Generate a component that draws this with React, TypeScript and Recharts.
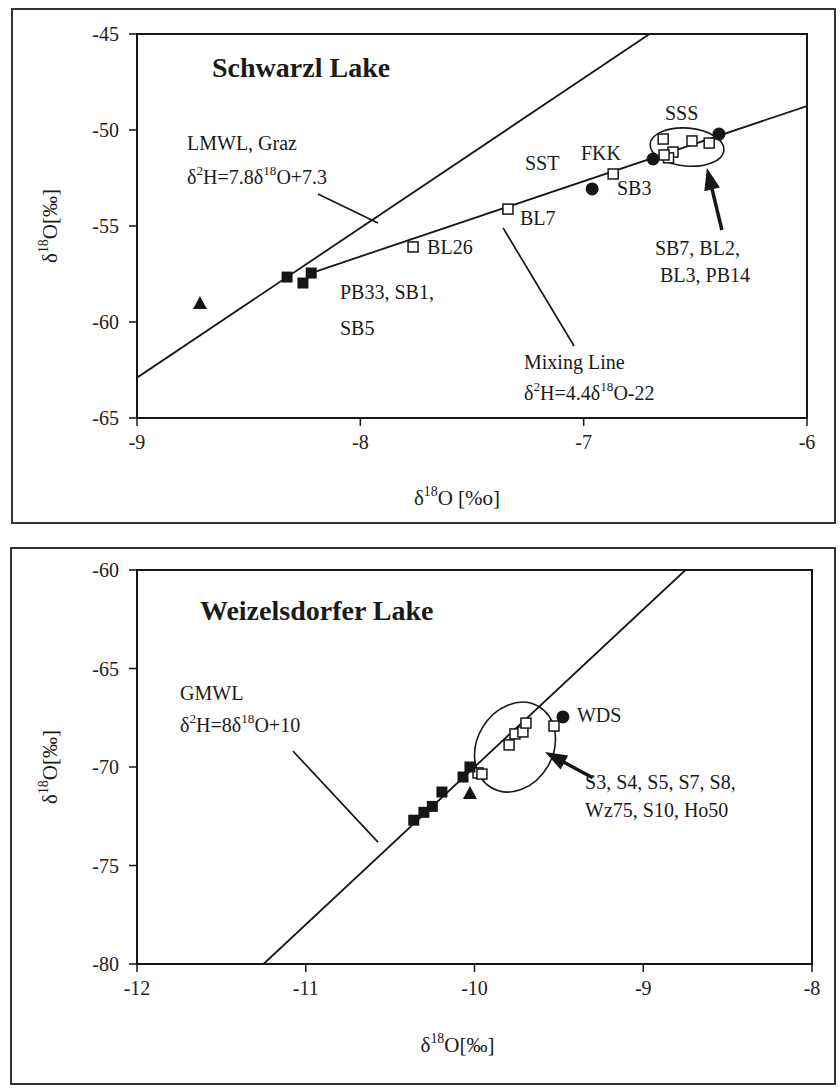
import React from 'react';
import { ScatterChart, Scatter, XAxis, YAxis, ReferenceLine, ReferenceDot, ReferenceArea, Label } from 'recharts';

const FONT = '"Liberation Serif", "Times New Roman", Times, serif';
const INK = '#161616';

// ---------- Schwarzl Lake (top) ----------
const topXTicks = [-9, -8, -7, -6];
const topYTicks = [-65, -60, -55, -50, -45];
const topXMinor = [-8.8, -8.6, -8.4, -8.2, -7.8, -7.6, -7.4, -7.2, -6.8, -6.6, -6.4, -6.2];
const topYMinor = [-64, -63, -62, -61, -59, -58, -57, -56, -54, -53, -52, -51, -49, -48, -47, -46];

const topFilledSquares = [
  { x: -8.328, y: -57.66 },
  { x: -8.257, y: -57.97 },
  { x: -8.22, y: -57.45 },
];
const topTriangles = [{ x: -8.718, y: -59.01 }];
const topCircles = [
  { x: -6.962, y: -53.07 },
  { x: -6.689, y: -51.51 },
  { x: -6.394, y: -50.21 },
];
const topOpenSquares = [
  { x: -7.764, y: -56.09 },
  { x: -7.339, y: -54.12 },
  { x: -6.868, y: -52.29 },
  { x: -6.644, y: -50.47 },
  { x: -6.6, y: -51.15 },
  { x: -6.62, y: -51.45 },
  { x: -6.64, y: -51.3 },
  { x: -6.515, y: -50.57 },
  { x: -6.438, y: -50.68 },
];
const lmwlLine = [
  { x: -9, y: -62.9 },
  { x: -6.705, y: -45 },
];
const mixingLine = [
  { x: -8.22, y: -57.45 },
  { x: -6, y: -48.75 },
];
const topNotes = [
  { x: -8.776, y: -50.68, text: 'LMWL, Graz' },
  { x: -8.776, y: -52.45, text: 'δ^2H=7.8δ^18O+7.3' },
  { x: -7.263, y: -51.72, text: 'SST' },
  { x: -7.012, y: -51.2, text: 'FKK' },
  { x: -6.636, y: -49.11, text: 'SSS' },
  { x: -6.851, y: -53.02, text: 'SB3' },
  { x: -7.285, y: -54.58, text: 'BL7' },
  { x: -7.701, y: -56.09, text: 'BL26' },
  { x: -8.091, y: -58.44, text: 'PB33, SB1,' },
  { x: -8.091, y: -60.31, text: 'SB5' },
  { x: -6.681, y: -56.15, text: 'SB7, BL2,' },
  { x: -6.658, y: -57.55, text: 'BL3, PB14' },
  { x: -7.267, y: -62.08, text: 'Mixing Line' },
  { x: -7.267, y: -63.7, text: 'δ^2H=4.4δ^18O-22' },
];
const topTitle = { x: -8.664, y: -46.72, text: 'Schwarzl Lake' };
const topPointers = [
  [{ x: -8.19, y: -53.33 }, { x: -7.921, y: -54.84 }],
  [{ x: -7.361, y: -55.1 }, { x: -7.043, y: -61.25 }],
];
const topArrow = [{ x: -6.381, y: -55.21 }, { x: -6.448, y: -51.98 }];
const topEllipse = { x: -6.537, y: -50.89 };

// ---------- Weizelsdorfer Lake (bottom) ----------
const botXTicks = [-12, -11, -10, -9, -8];
const botYTicks = [-80, -75, -70, -65, -60];
const botXMinor = [-11.8, -11.6, -11.4, -11.2, -10.8, -10.6, -10.4, -10.2, -9.8, -9.6, -9.4, -9.2, -8.8, -8.6, -8.4, -8.2];
const botYMinor = [-79, -78, -77, -76, -74, -73, -72, -71, -69, -68, -67, -66, -64, -63, -62, -61];

const botFilledSquares = [
  { x: -10.36, y: -72.7 },
  { x: -10.3, y: -72.3 },
  { x: -10.25, y: -72.0 },
  { x: -10.193, y: -71.27 },
  { x: -10.068, y: -70.51 },
  { x: -10.027, y: -70.0 },
];
const botTriangles = [{ x: -10.027, y: -71.32 }];
const botCircles = [{ x: -9.476, y: -67.46 }];
const botOpenSquares = [
  { x: -9.979, y: -70.3 },
  { x: -9.956, y: -70.36 },
  { x: -9.795, y: -68.88 },
  { x: -9.76, y: -68.32 },
  { x: -9.713, y: -68.22 },
  { x: -9.695, y: -67.77 },
  { x: -9.529, y: -67.92 },
];
const gmwlLine = [
  { x: -11.25, y: -80 },
  { x: -8.75, y: -60 },
];
const botNotes = [
  { x: -11.745, y: -66.24, text: 'GMWL' },
  { x: -11.745, y: -67.87, text: 'δ^2H=8δ^18O+10' },
  { x: -9.393, y: -67.36, text: 'WDS' },
  { x: -9.345, y: -70.76, text: 'S3, S4, S5, S7, S8,' },
  { x: -9.345, y: -72.18, text: 'Wz75, S10, Ho50' },
];
const botTitle = { x: -11.627, y: -62.03, text: 'Weizelsdorfer Lake' };
const botPointers = [[{ x: -11.076, y: -69.19 }, { x: -10.572, y: -73.81 }]];
const botArrow = [{ x: -9.3, y: -70.55 }, { x: -9.582, y: -69.24 }];
const botEllipse = { x: -9.76, y: -68.99 };

// ---------- helpers ----------
function rich(s: string, fs: number) {
  const parts = s.split(/\^(\d+)/);
  const out: any[] = [];
  let raised = false;
  parts.forEach((t, i) => {
    if (!t) return;
    if (i % 2 === 1) {
      out.push(
        <tspan key={i} dy={-fs * 0.42} fontSize={fs * 0.66}>
          {t}
        </tspan>
      );
      raised = true;
    } else {
      out.push(
        <tspan key={i} dy={raised ? fs * 0.42 : 0}>
          {t}
        </tspan>
      );
      raised = false;
    }
  });
  return out;
}

const openSquare = (p: any) => (
  <rect x={p.cx - 5} y={p.cy - 5} width={10} height={10} fill="#fff" stroke={INK} strokeWidth={1.5} />
);
const filledSquare = (p: any) => (
  <rect x={p.cx - 5.5} y={p.cy - 5.5} width={11} height={11} fill={INK} />
);
const filledCircle = (p: any) => <circle cx={p.cx} cy={p.cy} r={6.5} fill={INK} />;
const triangle = (p: any) => (
  <polygon points={`${p.cx},${p.cy - 7} ${p.cx - 7},${p.cy + 6} ${p.cx + 7},${p.cy + 6}`} fill={INK} />
);
const noShape = () => <g />;

const noteShape = (text: string, fs: number, bold = false) => (p: any) => (
  <text
    x={p.cx}
    y={p.cy + fs * 0.34}
    fontSize={fs}
    fontFamily={FONT}
    fontWeight={bold ? 'bold' : 'normal'}
    fill="#1a1a1a"
    textAnchor="start"
  >
    {rich(text, fs)}
  </text>
);

const arrowShape = (p: any) => {
  const { x1, y1, x2, y2 } = p;
  const dx = x2 - x1;
  const dy = y2 - y1;
  const L = Math.hypot(dx, dy) || 1;
  const ux = dx / L;
  const uy = dy / L;
  const hl = 22;
  const hw = 8;
  const bx = x2 - ux * hl;
  const by = y2 - uy * hl;
  return (
    <g>
      <line x1={x1} y1={y1} x2={bx + ux * 2} y2={by + uy * 2} stroke={INK} strokeWidth={3.5} />
      <polygon points={`${x2},${y2} ${bx - uy * hw},${by + ux * hw} ${bx + uy * hw},${by - ux * hw}`} fill={INK} />
    </g>
  );
};

const ellipseShape = (rx: number, ry: number, rot: number) => (p: any) => (
  <ellipse
    cx={p.cx}
    cy={p.cy}
    rx={rx}
    ry={ry}
    transform={`rotate(${rot}, ${p.cx}, ${p.cy})`}
    fill="none"
    stroke={INK}
    strokeWidth={1.6}
  />
);

const tickStyle = { fill: '#222', fontSize: 20, fontFamily: FONT };

const xLabel = (text: string, dxShift: number, yOff: number) => (props: any) => {
  const vb = props.viewBox;
  const cx = vb.x + vb.width / 2 + dxShift;
  return (
    <text x={cx} y={vb.y + yOff} textAnchor="middle" fontSize={21} fontFamily={FONT} fill="#1a1a1a">
      {rich(text, 21)}
    </text>
  );
};

const yLabel = (text: string, xPos: number) => (props: any) => {
  const vb = props.viewBox;
  const cy = vb.y + vb.height / 2;
  return (
    <text
      x={xPos}
      y={cy}
      transform={`rotate(-90, ${xPos}, ${cy})`}
      textAnchor="middle"
      fontSize={21}
      fontFamily={FONT}
      fill="#1a1a1a"
    >
      {rich(text, 21)}
    </text>
  );
};

function Panel(props: any) {
  const {
    width, height, margin, xDomain, yDomain, xTicks, yTicks, xMinor, yMinor,
    filledSquares, triangles, circles, openSquares, lines, notes, title,
    pointers, arrow, ellipse, ellipseSpec, xLabelText, yLabelText, xLabelShift, xLabelY, yLabelX,
  } = props;
  return (
    <ScatterChart width={width} height={height} margin={margin}>
      <XAxis
        type="number"
        dataKey="x"
        domain={xDomain}
        ticks={xTicks}
        allowDataOverflow
        height={60}
        tick={tickStyle}
        tickSize={8}
        tickMargin={9}
        axisLine={{ stroke: INK, strokeWidth: 2 }}
        tickLine={{ stroke: INK, strokeWidth: 1.5 }}
      >
        <Label content={xLabel(xLabelText, xLabelShift, xLabelY)} />
      </XAxis>
      <YAxis
        type="number"
        dataKey="y"
        domain={yDomain}
        ticks={yTicks}
        allowDataOverflow
        width={60}
        tick={tickStyle}
        tickSize={8}
        tickMargin={10}
        axisLine={{ stroke: INK, strokeWidth: 2 }}
        tickLine={{ stroke: INK, strokeWidth: 1.5 }}
      >
        <Label content={yLabel(yLabelText, yLabelX)} />
      </YAxis>
      <XAxis
        xAxisId="minor"
        type="number"
        dataKey="x"
        domain={xDomain}
        ticks={xMinor}
        allowDataOverflow
        mirror
        tick={false}
        tickSize={5}
        axisLine={false}
        tickLine={{ stroke: '#444', strokeWidth: 1 }}
      />
      <YAxis
        yAxisId="minor"
        type="number"
        dataKey="y"
        domain={yDomain}
        ticks={yMinor}
        allowDataOverflow
        mirror
        tick={false}
        tickSize={5}
        axisLine={false}
        tickLine={{ stroke: '#444', strokeWidth: 1 }}
      />
      <ReferenceArea
        x1={xDomain[0]}
        x2={xDomain[1]}
        y1={yDomain[0]}
        y2={yDomain[1]}
        fill="none"
        fillOpacity={0}
        stroke={INK}
        strokeWidth={2}
        ifOverflow="visible"
      />
      {lines.map((ln: any, i: number) => (
        <Scatter
          key={'l' + i}
          data={ln}
          line={{ stroke: INK, strokeWidth: 1.8 }}
          shape={noShape}
          isAnimationActive={false}
        />
      ))}
      {pointers.map((seg: any, i: number) => (
        <ReferenceLine key={'p' + i} segment={seg} stroke={INK} strokeWidth={1.7} ifOverflow="visible" />
      ))}
      <ReferenceLine segment={arrow} shape={arrowShape} ifOverflow="visible" />
      <ReferenceDot
        x={ellipse.x}
        y={ellipse.y}
        r={0}
        ifOverflow="visible"
        shape={ellipseShape(ellipseSpec[0], ellipseSpec[1], ellipseSpec[2])}
      />
      <Scatter data={openSquares} shape={openSquare} isAnimationActive={false} />
      <Scatter data={filledSquares} shape={filledSquare} isAnimationActive={false} />
      <Scatter data={triangles} shape={triangle} isAnimationActive={false} />
      <Scatter data={circles} shape={filledCircle} isAnimationActive={false} />
      {notes.map((n: any, i: number) => (
        <ReferenceDot key={'n' + i} x={n.x} y={n.y} r={0} ifOverflow="visible" shape={noteShape(n.text, 20)} />
      ))}
      <ReferenceDot x={title.x} y={title.y} r={0} ifOverflow="visible" shape={noteShape(title.text, 28, true)} />
    </ScatterChart>
  );
}

export default function App() {
  return (
    <div style={{ position: 'absolute', left: 0, top: 0, width: 840, height: 1091, background: '#fff' }}>
      <div
        style={{
          position: 'absolute', left: 11, top: 8, width: 825, height: 516,
          border: '2px solid #333', boxSizing: 'border-box',
        }}
      />
      <div
        style={{
          position: 'absolute', left: 10, top: 547, width: 826, height: 538,
          border: '2px solid #333', boxSizing: 'border-box',
        }}
      />
      <div style={{ position: 'absolute', left: 0, top: 0 }}>
        <Panel
          width={840}
          height={524}
          margin={{ top: 34, right: 33, bottom: 46, left: 77 }}
          xDomain={[-9, -6]}
          yDomain={[-65, -45]}
          xTicks={topXTicks}
          yTicks={topYTicks}
          xMinor={topXMinor}
          yMinor={topYMinor}
          filledSquares={topFilledSquares}
          triangles={topTriangles}
          circles={topCircles}
          openSquares={topOpenSquares}
          lines={[lmwlLine, mixingLine]}
          notes={topNotes}
          title={topTitle}
          pointers={topPointers}
          arrow={topArrow}
          ellipse={topEllipse}
          ellipseSpec={[37, 19, 5]}
          xLabelText="δ^18O [%o]"
          xLabelShift={-15}
          xLabelY={87}
          yLabelText="δ^18O[‰]"
          yLabelX={57}
        />
      </div>
      <div style={{ position: 'absolute', left: 0, top: 547 }}>
        <Panel
          width={840}
          height={537}
          margin={{ top: 23, right: 28, bottom: 60, left: 77 }}
          xDomain={[-12, -8]}
          yDomain={[-80, -60]}
          xTicks={botXTicks}
          yTicks={botYTicks}
          xMinor={botXMinor}
          yMinor={botYMinor}
          filledSquares={botFilledSquares}
          triangles={botTriangles}
          circles={botCircles}
          openSquares={botOpenSquares}
          lines={[gmwlLine]}
          notes={botNotes}
          title={botTitle}
          pointers={botPointers}
          arrow={botArrow}
          ellipse={botEllipse}
          ellipseSpec={[47, 38, -60]}
          xLabelText="δ^18O[‰]"
          xLabelShift={-17}
          xLabelY={88}
          yLabelText="δ^18O[‰]"
          yLabelX={57}
        />
      </div>
    </div>
  );
}
